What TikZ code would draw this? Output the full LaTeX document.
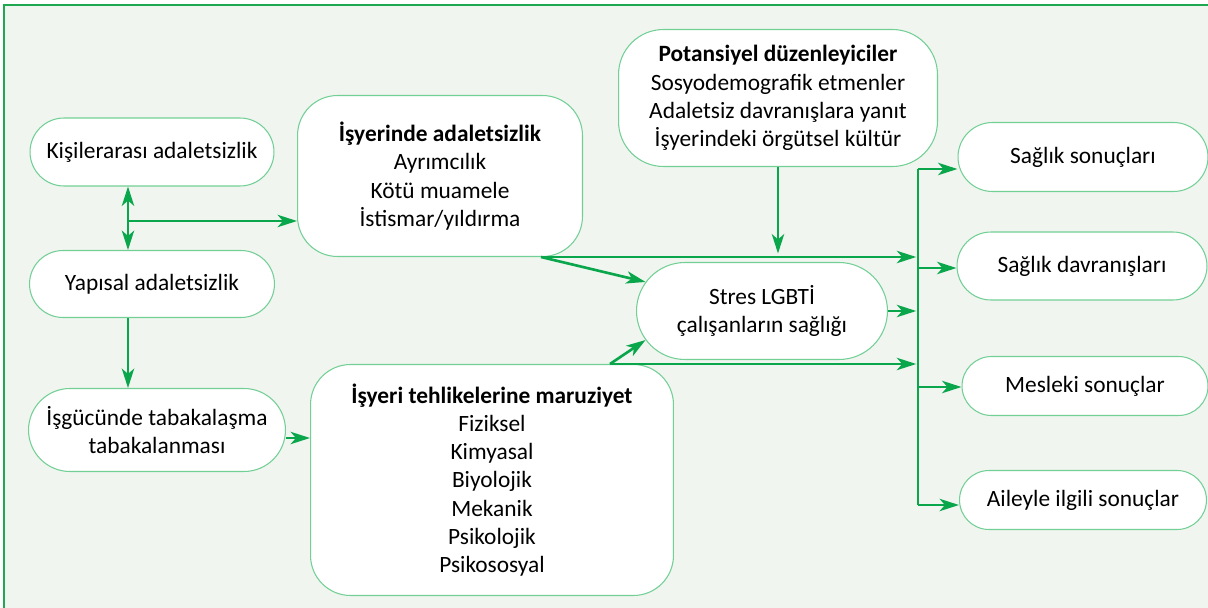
\documentclass[tikz,border=0pt]{standalone}
\usepackage{fontspec}
\setmainfont{Carlito}
\usetikzlibrary{arrows.meta,shapes.misc,calc}
\definecolor{framegreen}{HTML}{1DA851}
\definecolor{boxgreen}{HTML}{72CF95}
\definecolor{arrowgreen}{HTML}{0AA64C}
\definecolor{panel}{HTML}{F0F5EF}
\begin{document}
\begin{tikzpicture}[x=0.02cm,y=-0.02cm,
  font=\fontsize{13.3}{16.1}\selectfont,
  >={Stealth[length=11pt,width=7pt,inset=3pt]},
  pill/.style={rounded rectangle, draw=boxgreen, line width=0.6pt, fill=white, align=center, inner sep=0pt},
  panelbox/.style={rectangle, rounded corners=0.8cm, draw=boxgreen, line width=0.6pt, fill=white, align=center, inner sep=0pt},
  arr/.style={draw=arrowgreen, line width=1.5pt, ->},
  bar/.style={draw=arrowgreen, line width=1.5pt}]
\useasboundingbox (0,0) rectangle (1208,608);
\clip (0,0) rectangle (1208,608);
\draw[framegreen, line width=0.9pt, fill=panel] (4,5) rectangle (1240,640);

% left column
\node[pill, minimum width=4.88cm, minimum height=1.36cm] (kisi) at (152,152) {Kişilerarası adaletsizlik};
\node[pill, minimum width=4.9cm, minimum height=1.34cm] (yapisal) at (152,284) {Yapısal adaletsizlik};
\node[pill, minimum width=5.14cm, minimum height=1.66cm] (isgucu) at (157,430) {İşgücünde tabakalaşma\\tabakalanması};

% middle
\node[panelbox, minimum width=5.7cm, minimum height=3.22cm] (isyerinde) at (440,176)
  {\textbf{İşyerinde adaletsizlik}\\Ayrımcılık\\Kötü muamele\\İstismar/yıldırma};
\node[panelbox, rounded corners=0.9cm, minimum width=6.38cm, minimum height=2.74cm] (potansiyel) at (778,98)
  {\textbf{Potansiyel düzenleyiciler}\\Sosyodemografik etmenler\\Adaletsiz davranışlara yanıt\\İşyerindeki örgütsel kültür};
\node[pill, minimum width=5.02cm, minimum height=1.94cm] (stres) at (762,311) {Stres LGBTİ\\çalışanların sağlığı};
\node[panelbox, minimum width=7.26cm, minimum height=4.62cm] (tehlike) at (492,480)
  {\textbf{İşyeri tehlikelerine maruziyet}\\Fiziksel\\Kimyasal\\Biyolojik\\Mekanik\\Psikolojik\\Psikososyal};

% outcomes
\node[pill, minimum width=5.0cm, minimum height=1.38cm] (out1) at (1083,157) {Sağlık sonuçları};
\node[pill, minimum width=5.0cm, minimum height=1.36cm] (out2) at (1082,266) {Sağlık davranışları};
\node[pill, minimum width=4.92cm, minimum height=1.18cm] (out3) at (1085,386) {Mesleki sonuçlar};
\node[pill, minimum width=4.94cm, minimum height=1.18cm] (out4) at (1083,500) {Aileyle ilgili sonuçlar};

% junction points
\coordinate (vjoin) at (128,221);
\coordinate (bus) at (918,300);
\coordinate (ia) at ($(isyerinde.south east)+(-42,0)$);
\coordinate (tb) at ($(tehlike.north east)+(-64,0)$);
\coordinate (gt) at ([shift={(0,8)}]isgucu.east);
\coordinate (in1) at ([shift={(0,12)}]out1.west);
\coordinate (in2) at ([shift={(0,2)}]out2.west);
\coordinate (in3) at ([shift={(0,1)}]out3.west);
\coordinate (in4) at ([shift={(0,5)}]out4.west);

% connectors
\draw[arr, <->] (kisi.south -| vjoin) -- (yapisal.north -| vjoin);
\draw[arr] (vjoin) -- (vjoin -| isyerinde.west);
\draw[arr] (yapisal.south -| vjoin) -- (isgucu.north -| vjoin);
\draw[arr] (gt) -- (gt -| tehlike.west);
\draw[arr] (ia) -- (stres.166);
\draw[arr, shorten >=1pt] (ia) -- (ia -| bus);
\draw[arr] (tb) -- (stres.194);
\draw[arr, shorten >=1pt] (tb) -- (tb -| bus);
\draw[arr, shorten >=1pt] (stres.east) -- (stres.east -| bus);
\draw[arr, shorten >=2pt] (potansiyel.south) -- (potansiyel.south |- ia);
\draw[bar] (bus |- in1) -- (bus |- in4);
\foreach \k in {1,...,4}
  \draw[arr] (bus |- in\k) -- (in\k);
\end{tikzpicture}
\end{document}
